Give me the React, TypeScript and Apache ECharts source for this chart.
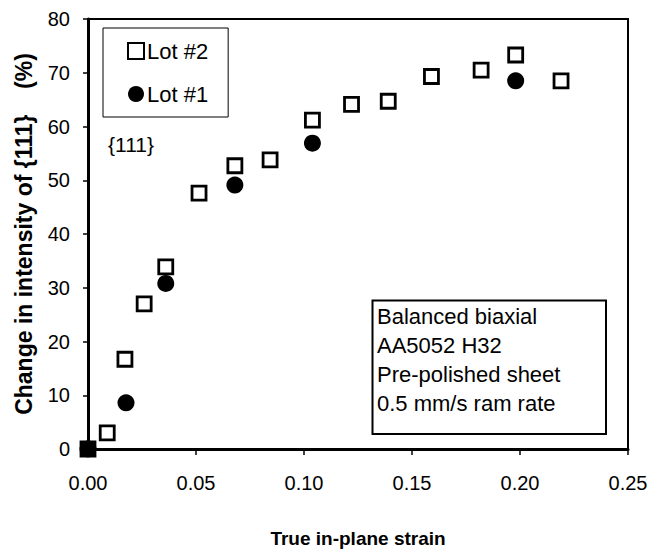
import React, { useEffect, useRef } from "react";
import * as echarts from "echarts";

const lot2Strain = [0, 0.0089, 0.0171, 0.026, 0.036, 0.0514, 0.068, 0.0843, 0.1039, 0.122, 0.139, 0.159, 0.182, 0.198, 0.219];
const lot2Change = [0, 3.0, 16.7, 27.0, 33.9, 47.6, 52.7, 53.8, 61.2, 64.1, 64.7, 69.3, 70.5, 73.3, 68.5];
const lot1Strain = [0, 0.0176, 0.036, 0.068, 0.1039, 0.198];
const lot1Change = [0, 8.6, 30.8, 49.1, 56.9, 68.5];
const xTicks = [0, 0.05, 0.1, 0.15, 0.2, 0.25];
const yTicks = [0, 10, 20, 30, 40, 50, 60, 70, 80];
const noteLines = ["Balanced biaxial", "AA5052 H32", "Pre-polished sheet", "0.5 mm/s ram rate"];

const FONT = "Liberation Sans, Arial, sans-serif";

export default function App() {
  const ref = useRef<HTMLDivElement>(null);
  useEffect(() => {
    if (!ref.current) return;
    const chart = echarts.init(ref.current, undefined, { renderer: "svg" });
    const lot2Data = lot2Strain.map((x, i) =>
      x === 0 && lot2Change[i] === 0
        ? { value: [x, lot2Change[i]], itemStyle: { color: "#000" } }
        : { value: [x, lot2Change[i]] }
    );
    const lot1Data = lot1Strain.map((x, i) => [x, lot1Change[i]]);
    chart.setOption({
      animation: false,
      backgroundColor: "#fff",
      textStyle: { fontFamily: FONT, color: "#000" },
      grid: {
        left: 88,
        top: 19,
        width: 540,
        height: 430,
        show: true,
        borderColor: "#000",
        borderWidth: 2,
        backgroundColor: "transparent",
      },
      legend: {
        orient: "vertical",
        left: 103,
        top: 28,
        padding: [12, 20, 12, 24],
        itemGap: 21,
        itemWidth: 16,
        itemHeight: 16,
        borderColor: "#000",
        borderWidth: 1,
        backgroundColor: "#fff",
        textStyle: { fontFamily: FONT, fontSize: 22, color: "#000", padding: [0, 0, 0, -2] },
        data: ["Lot #2", "Lot #1"],
        selectedMode: false,
      },
      xAxis: {
        type: "value",
        min: xTicks[0],
        max: xTicks[xTicks.length - 1],
        interval: 0.05,
        name: "True in-plane strain",
        nameLocation: "middle",
        nameGap: 80,
        nameTextStyle: { fontFamily: FONT, fontSize: 19, fontWeight: "bold", color: "#000" },
        axisLine: { show: true, onZero: false, lineStyle: { color: "#000", width: 3 } },
        axisTick: { show: true, inside: false, length: 6, lineStyle: { color: "#000", width: 1.5 } },
        axisLabel: {
          fontFamily: FONT,
          fontSize: 20,
          color: "#000",
          margin: 24,
          formatter: (v: number) => v.toFixed(2),
        },
        splitLine: { show: false },
      },
      yAxis: {
        type: "value",
        min: yTicks[0],
        max: yTicks[yTicks.length - 1],
        interval: 10,
        name: "Change in intensity of {111}    (%)",
        nameLocation: "middle",
        nameRotate: 90,
        nameGap: 53,
        nameTextStyle: { fontFamily: FONT, fontSize: 23, fontWeight: "bold", color: "#000" },
        axisLine: { show: true, onZero: false, lineStyle: { color: "#000", width: 3 } },
        axisTick: { show: true, inside: false, length: 5, lineStyle: { color: "#000", width: 1.5 } },
        axisLabel: { fontFamily: FONT, fontSize: 20, color: "#000", margin: 18 },
        splitLine: { show: false },
      },
      graphic: [
        {
          type: "text",
          left: 108,
          top: 134,
          style: { text: "{111}", fontFamily: FONT, fontSize: 21, fill: "#000" },
        },
        {
          type: "rect",
          shape: { x: 372.5, y: 300.5, width: 233.5, height: 133.5 },
          style: { fill: "#fff", stroke: "#000", lineWidth: 2 },
          z: 10,
        },
        {
          type: "text",
          x: 377,
          y: 302,
          z: 11,
          style: {
            text: noteLines.join("\n"),
            fontFamily: FONT,
            fontSize: 22,
            lineHeight: 29,
            fill: "#000",
          },
        },
      ],
      series: [
        {
          name: "Lot #2",
          type: "scatter",
          symbol: "rect",
          symbolSize: 14,
          clip: false,
          itemStyle: { color: "#fff", borderColor: "#000", borderWidth: 2.8, opacity: 1 },
          data: lot2Data,
          z: 3,
        },
        {
          name: "Lot #1",
          type: "scatter",
          symbol: "circle",
          symbolSize: 17,
          clip: false,
          itemStyle: { color: "#000", opacity: 1 },
          data: lot1Data,
          z: 4,
        },
      ],
    });
    return () => chart.dispose();
  }, []);
  return <div ref={ref} style={{ position: "fixed", left: 0, top: 0, width: 664, height: 556 }} />;
}
